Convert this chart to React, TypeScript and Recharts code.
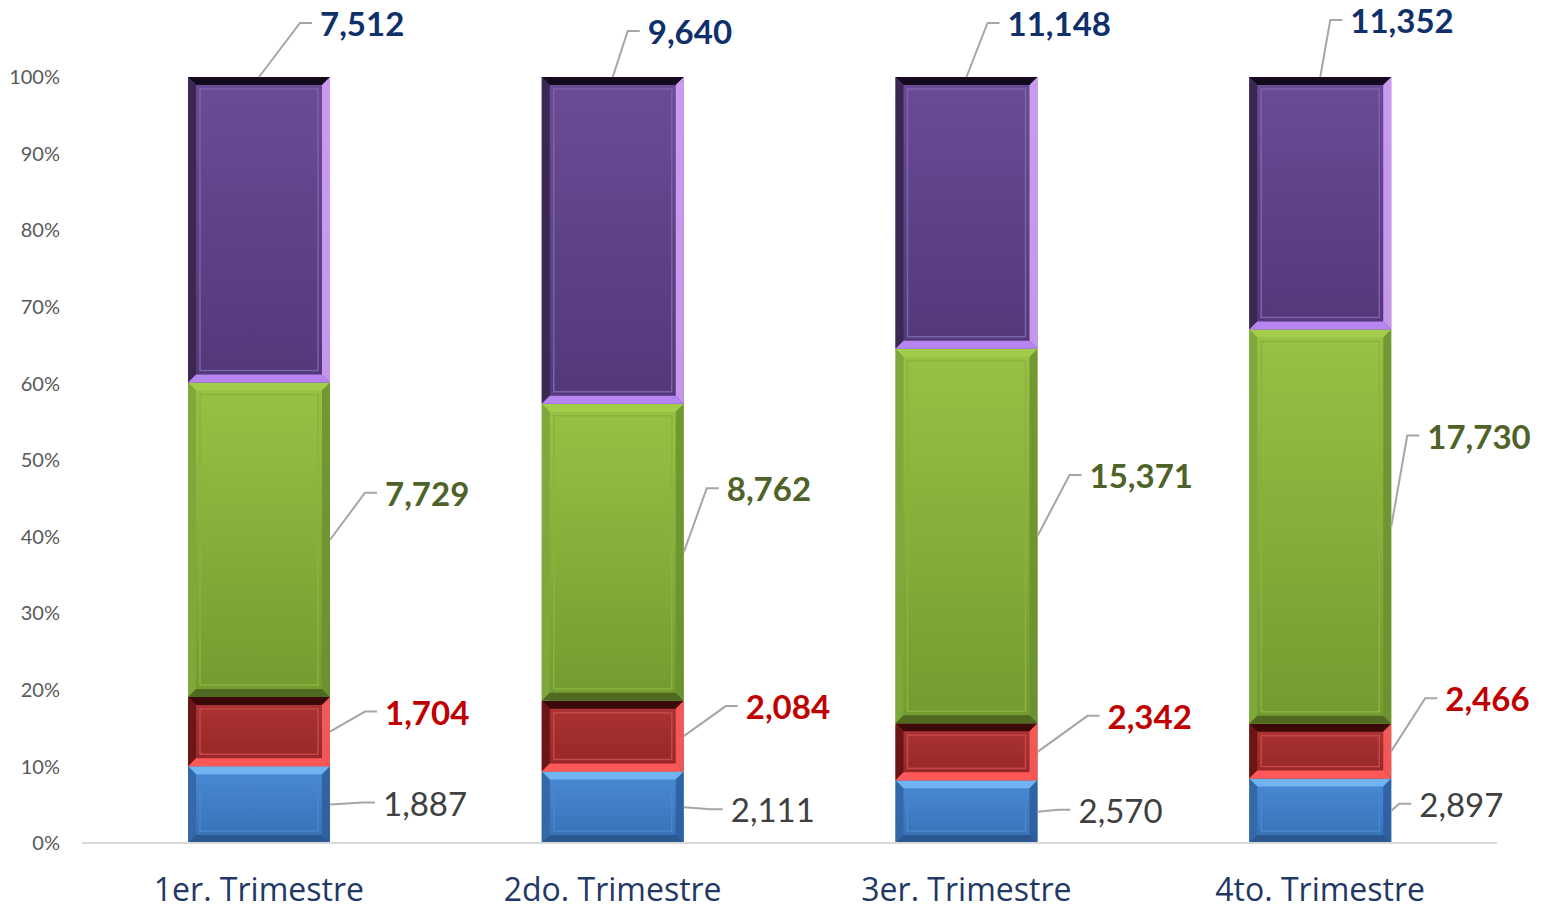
import { Bar, BarChart, LabelList, XAxis, YAxis } from "recharts";

const quarters = ["1er. Trimestre", "2do. Trimestre", "3er. Trimestre", "4to. Trimestre"];
const blueValues = [1887, 2111, 2570, 2897];
const redValues = [1704, 2084, 2342, 2466];
const greenValues = [7729, 8762, 15371, 17730];
const purpleValues = [7512, 9640, 11148, 11352];
const percentTicks = [0, 0.1, 0.2, 0.3, 0.4, 0.5, 0.6, 0.7, 0.8, 0.9, 1];

const data = quarters.map((q, i) => ({
  q,
  blue: blueValues[i],
  red: redValues[i],
  green: greenValues[i],
  purple: purpleValues[i],
}));

// where each label sits, relative to its anchor on the bar
const labelOffsets: Record<string, [number, number][]> = {
  blue: [[53, -2], [47, 2], [41, -2], [28, -7]],
  red: [[55, -20], [62, -30], [70, -36], [54, -53]],
  green: [[55, -47], [43, -64], [52, -61], [36, -91]],
  purple: [[61, -54], [35, -46], [41, -54], [30, -57]],
};

type Skin = {
  top: string;
  bottom: string;
  edgeTop: string;
  edgeLeft: string;
  edgeRight: string;
  edgeBottom: string;
  inner: string;
};

const skins: Record<string, Skin> = {
  blue: {
    top: "#4a8ad6", bottom: "#3670b4",
    edgeTop: "#72b4f2", edgeLeft: "#3468a8", edgeRight: "#2d5e9c", edgeBottom: "#2b5891",
    inner: "#4a86cc",
  },
  red: {
    top: "#ad3434", bottom: "#962626",
    edgeTop: "#3c0909", edgeLeft: "#6b1515", edgeRight: "#ff6060", edgeBottom: "#ff5858",
    inner: "#c44848",
  },
  green: {
    top: "#98c244", bottom: "#729a30",
    edgeTop: "#a2cc4a", edgeLeft: "#7fa83a", edgeRight: "#6b9030", edgeBottom: "#4f6a20",
    inner: "#8ab23e",
  },
  purple: {
    top: "#6a4c96", bottom: "#523879",
    edgeTop: "#140a1e", edgeLeft: "#3a2853", edgeRight: "#dba8ff", edgeBottom: "#b685f0",
    inner: "#7d62a8",
  },
};

const labelStyle: Record<string, { color: string; weight: number }> = {
  blue: { color: "#404040", weight: 400 },
  red: { color: "#C00000", weight: 700 },
  green: { color: "#4F6228", weight: 700 },
  purple: { color: "#10306B", weight: 700 },
};

const FONT = "Lato, 'Open Sans', sans-serif";
const AXIS_FONT = "'Open Sans', Lato, sans-serif";

function bevelShape(key: string) {
  const s = skins[key];
  return (props: any) => {
    const { x, y, width: w, height: h } = props;
    if (!h || h <= 0) return <g />;
    const b = Math.min(8, h / 3);
    const gid = `grad-${key}`;
    const ins = Math.min(12, h / 3);
    return (
      <g>
        <defs>
          <linearGradient id={gid} x1="0" y1="0" x2="0" y2="1">
            <stop offset="0%" stopColor={s.top} />
            <stop offset="100%" stopColor={s.bottom} />
          </linearGradient>
        </defs>
        <rect x={x} y={y} width={w} height={h} fill={`url(#${gid})`} />
        <polygon points={`${x},${y} ${x + w},${y} ${x + w - b},${y + b} ${x + b},${y + b}`} fill={s.edgeTop} />
        <polygon points={`${x},${y} ${x + b},${y + b} ${x + b},${y + h - b} ${x},${y + h}`} fill={s.edgeLeft} />
        <polygon points={`${x + w},${y} ${x + w},${y + h} ${x + w - b},${y + h - b} ${x + w - b},${y + b}`} fill={s.edgeRight} opacity={0.85} />
        <polygon points={`${x},${y + h} ${x + w},${y + h} ${x + w - b},${y + h - b} ${x + b},${y + h - b}`} fill={s.edgeBottom} />
        {h > 30 && (
          <rect x={x + ins} y={y + ins} width={w - 2 * ins} height={h - 2 * ins} fill="none" stroke={s.inner} strokeWidth={1.5} />
        )}
      </g>
    );
  };
}

function leaderLabel(key: string) {
  const st = labelStyle[key];
  return (props: any) => {
    const vb = props.viewBox ?? props;
    const x = Number(vb.x ?? props.x);
    const y = Number(vb.y ?? props.y);
    const w = Number(vb.width ?? props.width);
    const h = Number(vb.height ?? props.height);
    const idx = props.index ?? 0;
    const [dx, dy] = labelOffsets[key][idx];
    const ax = key === "purple" ? x + w / 2 : x + w;
    const ay = key === "purple" ? y : y + h / 2;
    const lx = ax + dx;
    const ly = ay + dy;
    return (
      <g>
        <polyline
          points={`${ax},${ay} ${lx - 20},${ly} ${lx - 8},${ly}`}
          fill="none"
          stroke="#A6A6A6"
          strokeWidth={2}
        />
        <text
          x={lx}
          y={ly}
          dominantBaseline="central"
          fill={st.color}
          fontWeight={st.weight}
          fontSize={33}
          fontFamily={FONT}
        >
          {Number(props.value).toLocaleString("en-US")}
        </text>
      </g>
    );
  };
}

const seriesKeys = ["blue", "red", "green", "purple"];

export default function App() {
  return (
    <div style={{ position: "absolute", left: 0, top: 0, width: 1546, height: 911, background: "#fff" }}>
      <BarChart
        width={1546}
        height={911}
        data={data}
        stackOffset="expand"
        margin={{ top: 77, right: 49, left: 0, bottom: 38 }}
      >
        <XAxis
          dataKey="q"
          height={30}
          axisLine={{ stroke: "#D9D9D9", strokeWidth: 2 }}
          tickLine={false}
          tickSize={0}
          tickMargin={35}
          tick={{ fontSize: 32, fill: "#1F3864", fontFamily: AXIS_FONT }}
        />
        <YAxis
          width={82}
          domain={[0, 1]}
          ticks={percentTicks}
          axisLine={false}
          tickLine={false}
          tickSize={0}
          tickMargin={22}
          tickFormatter={(v: number) => `${Math.round(v * 100)}%`}
          tick={{ fontSize: 20, fill: "#595959", fontFamily: FONT }}
        />
        {seriesKeys.map((k) => (
          <Bar
            key={k}
            dataKey={k}
            stackId="a"
            barSize={142}
            isAnimationActive={false}
            shape={bevelShape(k)}
          >
            <LabelList dataKey={k} content={leaderLabel(k)} />
          </Bar>
        ))}
      </BarChart>
    </div>
  );
}
